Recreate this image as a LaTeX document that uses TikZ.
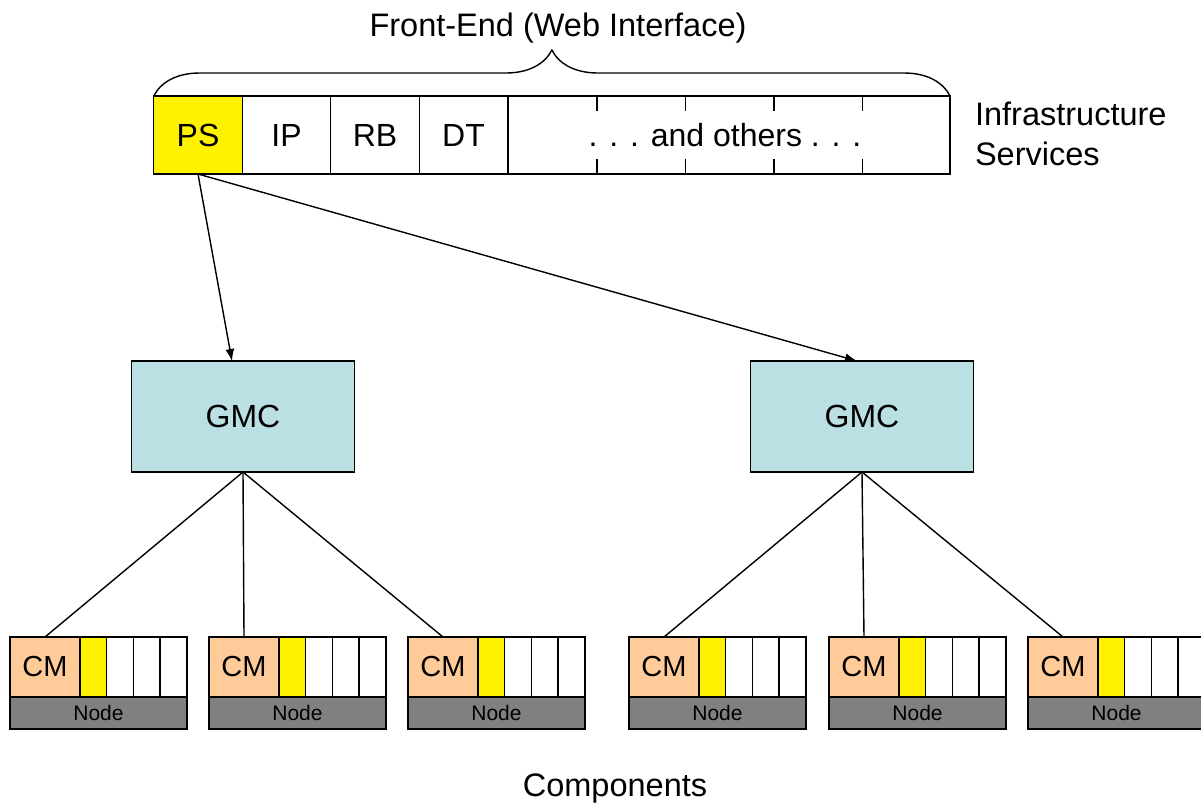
\documentclass[tikz,border=0pt]{standalone}
\usepackage{fontspec}
\setmainfont{Liberation Sans}
\usetikzlibrary{arrows.meta}
\usetikzlibrary{positioning}
\usetikzlibrary{decorations.pathreplacing}
\definecolor{gmcblue}{RGB}{187,224,227}
\definecolor{cmpeach}{RGB}{255,204,153}
\definecolor{nodegray}{RGB}{128,128,128}

\begin{document}
\begin{tikzpicture}[x=1pt,y=-1pt,>={Latex[length=12pt,width=9pt]},line width=1.4pt,
	svc/.style={draw,minimum width=88.5pt,minimum height=78pt,inner sep=0pt,outer sep=0pt,font=\fontsize{32}{38}\selectfont},
	gmc/.style={draw,fill=gmcblue,minimum width=223pt,minimum height=111pt,inner sep=0pt,outer sep=0pt,font=\fontsize{32}{38}\selectfont},
	cmbox/.style={draw,fill=cmpeach,minimum width=70pt,minimum height=60pt,inner sep=0pt,outer sep=0pt,font=\fontsize{29}{34}\selectfont},
	slot/.style={draw,fill=white,minimum width=26.7pt,minimum height=60pt,inner sep=0pt,outer sep=0pt},
	nodebar/.style={draw,fill=nodegray,minimum width=177pt,minimum height=32pt,inner sep=0pt,outer sep=0pt,font=\fontsize{21}{25}\selectfont},
	label/.style={font=\fontsize{32.5}{40}\selectfont}]
	\clip (0,0) rectangle (1201,804);
	% infrastructure services
	\node[svc,fill=yellow] (ps) at (198,135) {PS};
	\foreach \t [count=\i] in {IP,RB,DT}
		\node[svc] (s\i) at ({198+88.5*\i},135) {\t};
	\node[svc,minimum width=442pt] (others) at (729,135) {\hspace*{-8pt}. . . and others . . .};
	\foreach \x in {597,685.5,774,862.5} {
		\draw (\x,96) -- (\x,111);
		\draw (\x,174) -- (\x,159);
	}
	\draw[decorate,decoration={brace,amplitude=46pt}] (ps.north west) -- (others.north east);
	\node[label] (fe) at (558,28) {Front-End (Web Interface)};
	\node[label,anchor=west,align=left] (infra) at (971,134) {Infrastructure\\Services};
	% GMCs
	\node[gmc] (g1) at (243,416.5) {GMC};
	\node[gmc] (g2) at (862,416.5) {GMC};
	\draw[->] (ps.south) -- ([xshift=-11pt]g1.north);
	\draw[->] (ps.south) -- ([xshift=-5pt]g2.north);
	% components
	\foreach \x [count=\i] in {10,209,408,629,829,1028} {
		\node[cmbox,anchor=north west] (cm\i) at (\x,637) {CM};
		\node[slot,fill=yellow,right=0pt of cm\i] (a\i) {};
		\node[slot,right=0pt of a\i] (b\i) {};
		\node[slot,right=0pt of b\i] (c\i) {};
		\node[slot,right=0pt of c\i] (d\i) {};
		\node[nodebar,anchor=north west] (n\i) at (cm\i.south west) {Node};
	}
	\foreach \i in {1,2,3}
		\draw (g1.south) -- (cm\i.north);
	\foreach \i in {4,5,6}
		\draw (g2.south) -- (cm\i.north);
	\node[label] (comp) at (615,789) {Components};
\end{tikzpicture}
\end{document}
